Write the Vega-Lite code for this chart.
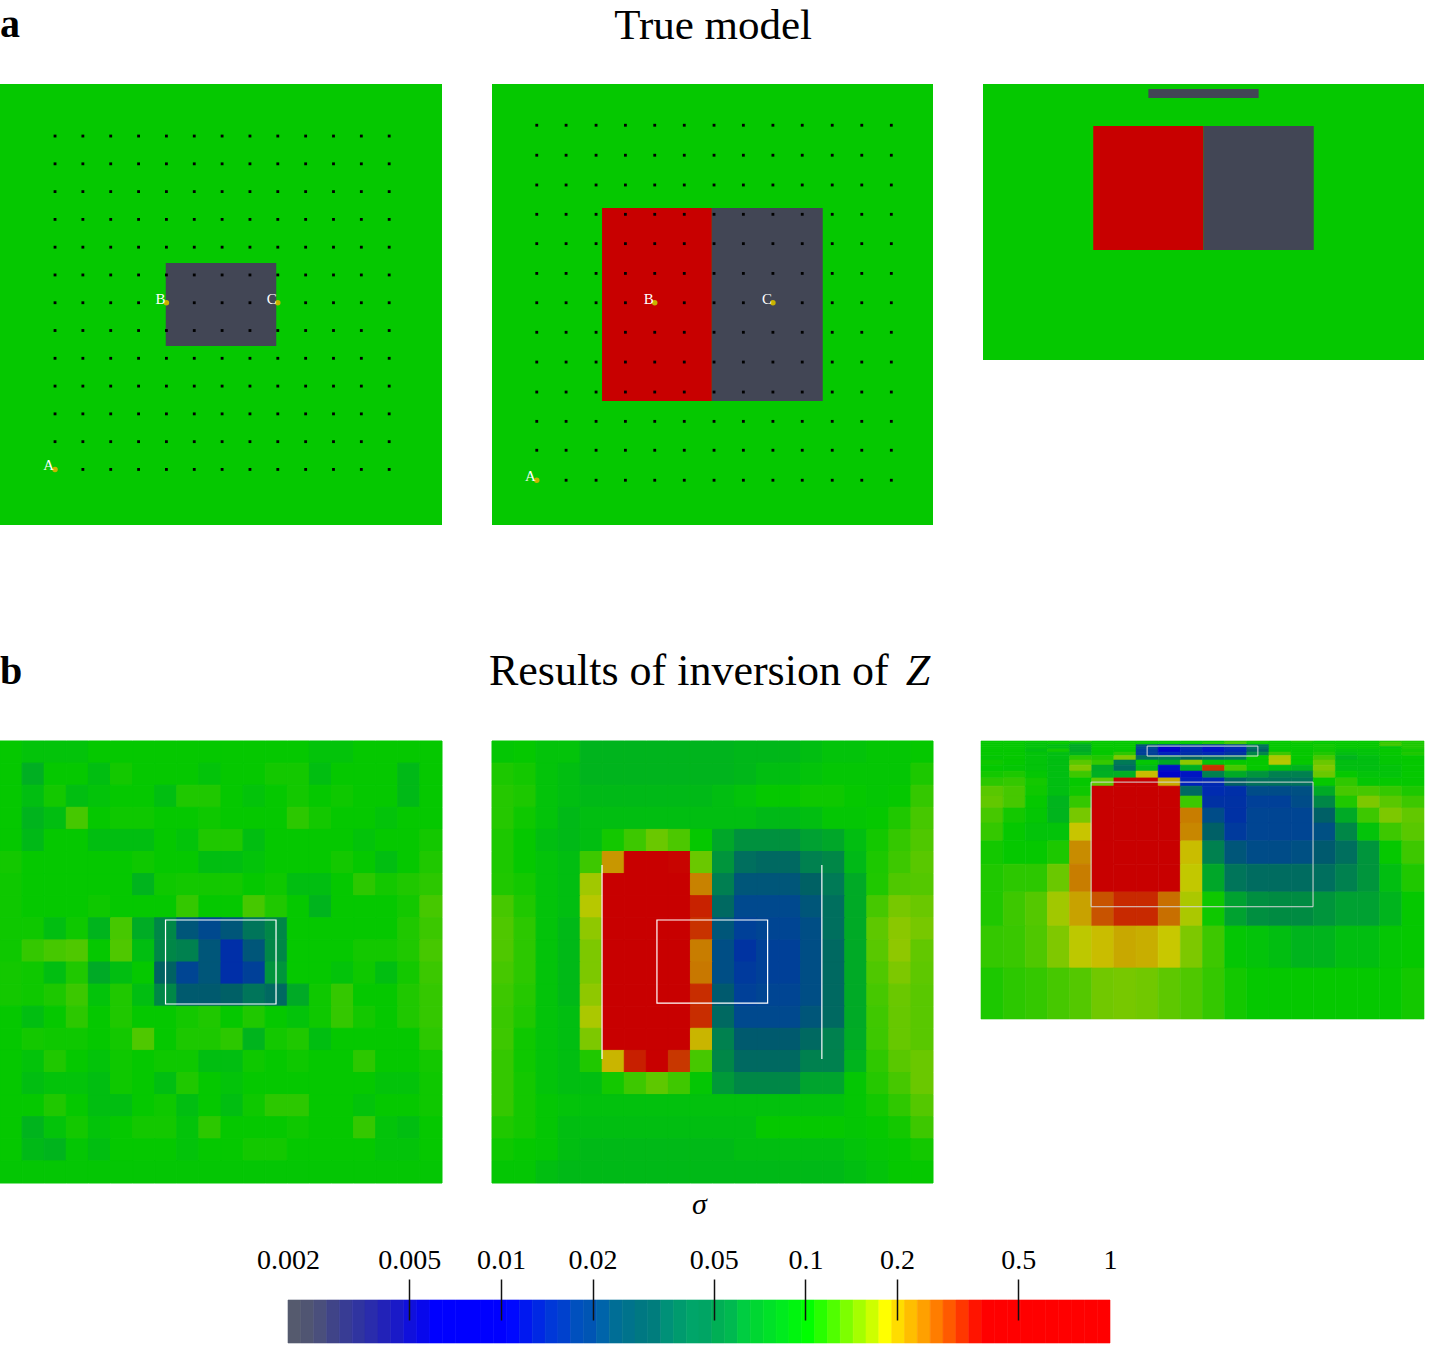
{"$schema":"https://vega.github.io/schema/vega-lite/v6.json","padding":{"left":-1,"top":0,"right":0,"bottom":0},"background":"white","spacing":0,"config":{"view":{"stroke":null},"concat":{"spacing":0}},
"datasets":{
"p1":[
{"c":0,"r":0,"v":0.1},{"c":1,"r":0,"v":0.095},{"c":2,"r":0,"v":0.095},{"c":3,"r":0,"v":0.095},{"c":4,"r":0,"v":0.1},{"c":5,"r":0,"v":0.1},{"c":6,"r":0,"v":0.1},{"c":7,"r":0,"v":0.1},{"c":8,"r":0,"v":0.1},{"c":9,"r":0,"v":0.1},{"c":10,"r":0,"v":0.1},{"c":11,"r":0,"v":0.1},{"c":12,"r":0,"v":0.1},{"c":13,"r":0,"v":0.1},{"c":14,"r":0,"v":0.095},{"c":15,"r":0,"v":0.095},{"c":16,"r":0,"v":0.1},{"c":17,"r":0,"v":0.1},{"c":18,"r":0,"v":0.1},{"c":19,"r":0,"v":0.1},
{"c":0,"r":1,"v":0.1},{"c":1,"r":1,"v":0.075},{"c":2,"r":1,"v":0.1},{"c":3,"r":1,"v":0.1},{"c":4,"r":1,"v":0.09},{"c":5,"r":1,"v":0.105},{"c":6,"r":1,"v":0.1},{"c":7,"r":1,"v":0.1},{"c":8,"r":1,"v":0.1},{"c":9,"r":1,"v":0.095},{"c":10,"r":1,"v":0.1},{"c":11,"r":1,"v":0.1},{"c":12,"r":1,"v":0.105},{"c":13,"r":1,"v":0.105},{"c":14,"r":1,"v":0.09},{"c":15,"r":1,"v":0.1},{"c":16,"r":1,"v":0.1},{"c":17,"r":1,"v":0.1},{"c":18,"r":1,"v":0.085},{"c":19,"r":1,"v":0.1},
{"c":0,"r":2,"v":0.1},{"c":1,"r":2,"v":0.09},{"c":2,"r":2,"v":0.105},{"c":3,"r":2,"v":0.09},{"c":4,"r":2,"v":0.095},{"c":5,"r":2,"v":0.1},{"c":6,"r":2,"v":0.1},{"c":7,"r":2,"v":0.09},{"c":8,"r":2,"v":0.1125},{"c":9,"r":2,"v":0.1125},{"c":10,"r":2,"v":0.1},{"c":11,"r":2,"v":0.095},{"c":12,"r":2,"v":0.1},{"c":13,"r":2,"v":0.105},{"c":14,"r":2,"v":0.1},{"c":15,"r":2,"v":0.103},{"c":16,"r":2,"v":0.1},{"c":17,"r":2,"v":0.1},{"c":18,"r":2,"v":0.085},{"c":19,"r":2,"v":0.1},
{"c":0,"r":3,"v":0.1},{"c":1,"r":3,"v":0.08},{"c":2,"r":3,"v":0.09},{"c":3,"r":3,"v":0.126},{"c":4,"r":3,"v":0.1},{"c":5,"r":3,"v":0.103},{"c":6,"r":3,"v":0.103},{"c":7,"r":3,"v":0.1},{"c":8,"r":3,"v":0.1},{"c":9,"r":3,"v":0.103},{"c":10,"r":3,"v":0.1},{"c":11,"r":3,"v":0.1},{"c":12,"r":3,"v":0.1},{"c":13,"r":3,"v":0.116},{"c":14,"r":3,"v":0.105},{"c":15,"r":3,"v":0.1},{"c":16,"r":3,"v":0.1},{"c":17,"r":3,"v":0.095},{"c":18,"r":3,"v":0.1},{"c":19,"r":3,"v":0.1},
{"c":0,"r":4,"v":0.1},{"c":1,"r":4,"v":0.085},{"c":2,"r":4,"v":0.1},{"c":3,"r":4,"v":0.1},{"c":4,"r":4,"v":0.09},{"c":5,"r":4,"v":0.09},{"c":6,"r":4,"v":0.09},{"c":7,"r":4,"v":0.1},{"c":8,"r":4,"v":0.095},{"c":9,"r":4,"v":0.1125},{"c":10,"r":4,"v":0.1125},{"c":11,"r":4,"v":0.09},{"c":12,"r":4,"v":0.1},{"c":13,"r":4,"v":0.1},{"c":14,"r":4,"v":0.1},{"c":15,"r":4,"v":0.1},{"c":16,"r":4,"v":0.095},{"c":17,"r":4,"v":0.1},{"c":18,"r":4,"v":0.1},{"c":19,"r":4,"v":0.105},
{"c":0,"r":5,"v":0.105},{"c":1,"r":5,"v":0.1},{"c":2,"r":5,"v":0.1},{"c":3,"r":5,"v":0.1},{"c":4,"r":5,"v":0.1},{"c":5,"r":5,"v":0.1},{"c":6,"r":5,"v":0.103},{"c":7,"r":5,"v":0.1},{"c":8,"r":5,"v":0.1},{"c":9,"r":5,"v":0.09},{"c":10,"r":5,"v":0.09},{"c":11,"r":5,"v":0.095},{"c":12,"r":5,"v":0.1},{"c":13,"r":5,"v":0.1},{"c":14,"r":5,"v":0.1},{"c":15,"r":5,"v":0.105},{"c":16,"r":5,"v":0.1},{"c":17,"r":5,"v":0.09},{"c":18,"r":5,"v":0.1},{"c":19,"r":5,"v":0.1125},
{"c":0,"r":6,"v":0.103},{"c":1,"r":6,"v":0.1},{"c":2,"r":6,"v":0.1},{"c":3,"r":6,"v":0.1},{"c":4,"r":6,"v":0.1},{"c":5,"r":6,"v":0.1},{"c":6,"r":6,"v":0.08},{"c":7,"r":6,"v":0.103},{"c":8,"r":6,"v":0.105},{"c":9,"r":6,"v":0.105},{"c":10,"r":6,"v":0.105},{"c":11,"r":6,"v":0.1},{"c":12,"r":6,"v":0.103},{"c":13,"r":6,"v":0.09},{"c":14,"r":6,"v":0.09},{"c":15,"r":6,"v":0.1},{"c":16,"r":6,"v":0.116},{"c":17,"r":6,"v":0.105},{"c":18,"r":6,"v":0.1125},{"c":19,"r":6,"v":0.116},
{"c":0,"r":7,"v":0.103},{"c":1,"r":7,"v":0.1},{"c":2,"r":7,"v":0.1},{"c":3,"r":7,"v":0.1},{"c":4,"r":7,"v":0.103},{"c":5,"r":7,"v":0.1},{"c":6,"r":7,"v":0.1},{"c":7,"r":7,"v":0.1},{"c":8,"r":7,"v":0.119},{"c":9,"r":7,"v":0.1},{"c":10,"r":7,"v":0.1},{"c":11,"r":7,"v":0.126},{"c":12,"r":7,"v":0.1125},{"c":13,"r":7,"v":0.1},{"c":14,"r":7,"v":0.08},{"c":15,"r":7,"v":0.1},{"c":16,"r":7,"v":0.1},{"c":17,"r":7,"v":0.1},{"c":18,"r":7,"v":0.105},{"c":19,"r":7,"v":0.126},
{"c":0,"r":8,"v":0.103},{"c":1,"r":8,"v":0.103},{"c":2,"r":8,"v":0.09},{"c":3,"r":8,"v":0.103},{"c":4,"r":8,"v":0.08},{"c":5,"r":8,"v":0.126},{"c":6,"r":8,"v":0.072},{"c":7,"r":8,"v":0.05},{"c":8,"r":8,"v":0.024},{"c":9,"r":8,"v":0.02},{"c":10,"r":8,"v":0.024},{"c":11,"r":8,"v":0.038},{"c":12,"r":8,"v":0.05},{"c":13,"r":8,"v":0.1},{"c":14,"r":8,"v":0.1},{"c":15,"r":8,"v":0.1},{"c":16,"r":8,"v":0.1},{"c":17,"r":8,"v":0.1},{"c":18,"r":8,"v":0.1125},{"c":19,"r":8,"v":0.122},
{"c":0,"r":9,"v":0.103},{"c":1,"r":9,"v":0.119},{"c":2,"r":9,"v":0.126},{"c":3,"r":9,"v":0.129},{"c":4,"r":9,"v":0.1},{"c":5,"r":9,"v":0.129},{"c":6,"r":9,"v":0.09},{"c":7,"r":9,"v":0.05},{"c":8,"r":9,"v":0.045},{"c":9,"r":9,"v":0.024},{"c":10,"r":9,"v":0.015},{"c":11,"r":9,"v":0.024},{"c":12,"r":9,"v":0.05},{"c":13,"r":9,"v":0.1},{"c":14,"r":9,"v":0.1},{"c":15,"r":9,"v":0.1},{"c":16,"r":9,"v":0.105},{"c":17,"r":9,"v":0.105},{"c":18,"r":9,"v":0.1125},{"c":19,"r":9,"v":0.126},
{"c":0,"r":10,"v":0.105},{"c":1,"r":10,"v":0.103},{"c":2,"r":10,"v":0.09},{"c":3,"r":10,"v":0.1125},{"c":4,"r":10,"v":0.07},{"c":5,"r":10,"v":0.09},{"c":6,"r":10,"v":0.1},{"c":7,"r":10,"v":0.032},{"c":8,"r":10,"v":0.019},{"c":9,"r":10,"v":0.024},{"c":10,"r":10,"v":0.015},{"c":11,"r":10,"v":0.018},{"c":12,"r":10,"v":0.058},{"c":13,"r":10,"v":0.1},{"c":14,"r":10,"v":0.1},{"c":15,"r":10,"v":0.095},{"c":16,"r":10,"v":0.103},{"c":17,"r":10,"v":0.09},{"c":18,"r":10,"v":0.105},{"c":19,"r":10,"v":0.122},
{"c":0,"r":11,"v":0.105},{"c":1,"r":11,"v":0.103},{"c":2,"r":11,"v":0.11},{"c":3,"r":11,"v":0.122},{"c":4,"r":11,"v":0.095},{"c":5,"r":11,"v":0.1125},{"c":6,"r":11,"v":0.09},{"c":7,"r":11,"v":0.05},{"c":8,"r":11,"v":0.026},{"c":9,"r":11,"v":0.026},{"c":10,"r":11,"v":0.03},{"c":11,"r":11,"v":0.038},{"c":12,"r":11,"v":0.034},{"c":13,"r":11,"v":0.07},{"c":14,"r":11,"v":0.103},{"c":15,"r":11,"v":0.119},{"c":16,"r":11,"v":0.1},{"c":17,"r":11,"v":0.1},{"c":18,"r":11,"v":0.1125},{"c":19,"r":11,"v":0.119},
{"c":0,"r":12,"v":0.1},{"c":1,"r":12,"v":0.09},{"c":2,"r":12,"v":0.1},{"c":3,"r":12,"v":0.116},{"c":4,"r":12,"v":0.1},{"c":5,"r":12,"v":0.1125},{"c":6,"r":12,"v":0.1},{"c":7,"r":12,"v":0.1},{"c":8,"r":12,"v":0.105},{"c":9,"r":12,"v":0.1125},{"c":10,"r":12,"v":0.1},{"c":11,"r":12,"v":0.1125},{"c":12,"r":12,"v":0.1},{"c":13,"r":12,"v":0.095},{"c":14,"r":12,"v":0.103},{"c":15,"r":12,"v":0.119},{"c":16,"r":12,"v":0.105},{"c":17,"r":12,"v":0.1},{"c":18,"r":12,"v":0.1125},{"c":19,"r":12,"v":0.119},
{"c":0,"r":13,"v":0.1},{"c":1,"r":13,"v":0.105},{"c":2,"r":13,"v":0.103},{"c":3,"r":13,"v":0.103},{"c":4,"r":13,"v":0.1},{"c":5,"r":13,"v":0.105},{"c":6,"r":13,"v":0.129},{"c":7,"r":13,"v":0.1},{"c":8,"r":13,"v":0.11},{"c":9,"r":13,"v":0.11},{"c":10,"r":13,"v":0.116},{"c":11,"r":13,"v":0.08},{"c":12,"r":13,"v":0.105},{"c":13,"r":13,"v":0.1125},{"c":14,"r":13,"v":0.09},{"c":15,"r":13,"v":0.1},{"c":16,"r":13,"v":0.1},{"c":17,"r":13,"v":0.1},{"c":18,"r":13,"v":0.1},{"c":19,"r":13,"v":0.116},
{"c":0,"r":14,"v":0.1},{"c":1,"r":14,"v":0.095},{"c":2,"r":14,"v":0.1125},{"c":3,"r":14,"v":0.1},{"c":4,"r":14,"v":0.095},{"c":5,"r":14,"v":0.103},{"c":6,"r":14,"v":0.1},{"c":7,"r":14,"v":0.103},{"c":8,"r":14,"v":0.103},{"c":9,"r":14,"v":0.09},{"c":10,"r":14,"v":0.09},{"c":11,"r":14,"v":0.103},{"c":12,"r":14,"v":0.1},{"c":13,"r":14,"v":0.103},{"c":14,"r":14,"v":0.1},{"c":15,"r":14,"v":0.1},{"c":16,"r":14,"v":0.116},{"c":17,"r":14,"v":0.1},{"c":18,"r":14,"v":0.1},{"c":19,"r":14,"v":0.105},
{"c":0,"r":15,"v":0.1},{"c":1,"r":15,"v":0.09},{"c":2,"r":15,"v":0.095},{"c":3,"r":15,"v":0.095},{"c":4,"r":15,"v":0.09},{"c":5,"r":15,"v":0.103},{"c":6,"r":15,"v":0.1},{"c":7,"r":15,"v":0.09},{"c":8,"r":15,"v":0.1125},{"c":9,"r":15,"v":0.1},{"c":10,"r":15,"v":0.095},{"c":11,"r":15,"v":0.1},{"c":12,"r":15,"v":0.1},{"c":13,"r":15,"v":0.1},{"c":14,"r":15,"v":0.1},{"c":15,"r":15,"v":0.1},{"c":16,"r":15,"v":0.1},{"c":17,"r":15,"v":0.095},{"c":18,"r":15,"v":0.095},{"c":19,"r":15,"v":0.103},
{"c":0,"r":16,"v":0.1},{"c":1,"r":16,"v":0.1},{"c":2,"r":16,"v":0.1125},{"c":3,"r":16,"v":0.1},{"c":4,"r":16,"v":0.09},{"c":5,"r":16,"v":0.09},{"c":6,"r":16,"v":0.1},{"c":7,"r":16,"v":0.103},{"c":8,"r":16,"v":0.09},{"c":9,"r":16,"v":0.1},{"c":10,"r":16,"v":0.09},{"c":11,"r":16,"v":0.103},{"c":12,"r":16,"v":0.116},{"c":13,"r":16,"v":0.116},{"c":14,"r":16,"v":0.1},{"c":15,"r":16,"v":0.1},{"c":16,"r":16,"v":0.095},{"c":17,"r":16,"v":0.1},{"c":18,"r":16,"v":0.1},{"c":19,"r":16,"v":0.103},
{"c":0,"r":17,"v":0.1},{"c":1,"r":17,"v":0.08},{"c":2,"r":17,"v":0.095},{"c":3,"r":17,"v":0.105},{"c":4,"r":17,"v":0.095},{"c":5,"r":17,"v":0.1},{"c":6,"r":17,"v":0.105},{"c":7,"r":17,"v":0.105},{"c":8,"r":17,"v":0.095},{"c":9,"r":17,"v":0.116},{"c":10,"r":17,"v":0.1},{"c":11,"r":17,"v":0.1},{"c":12,"r":17,"v":0.1},{"c":13,"r":17,"v":0.103},{"c":14,"r":17,"v":0.1},{"c":15,"r":17,"v":0.1},{"c":16,"r":17,"v":0.119},{"c":17,"r":17,"v":0.095},{"c":18,"r":17,"v":0.09},{"c":19,"r":17,"v":0.1},
{"c":0,"r":18,"v":0.1},{"c":1,"r":18,"v":0.085},{"c":2,"r":18,"v":0.08},{"c":3,"r":18,"v":0.098},{"c":4,"r":18,"v":0.09},{"c":5,"r":18,"v":0.1},{"c":6,"r":18,"v":0.1},{"c":7,"r":18,"v":0.1},{"c":8,"r":18,"v":0.095},{"c":9,"r":18,"v":0.1},{"c":10,"r":18,"v":0.1},{"c":11,"r":18,"v":0.105},{"c":12,"r":18,"v":0.105},{"c":13,"r":18,"v":0.1},{"c":14,"r":18,"v":0.1},{"c":15,"r":18,"v":0.1},{"c":16,"r":18,"v":0.1},{"c":17,"r":18,"v":0.095},{"c":18,"r":18,"v":0.095},{"c":19,"r":18,"v":0.1},
{"c":0,"r":19,"v":0.098},{"c":1,"r":19,"v":0.098},{"c":2,"r":19,"v":0.098},{"c":3,"r":19,"v":0.098},{"c":4,"r":19,"v":0.098},{"c":5,"r":19,"v":0.098},{"c":6,"r":19,"v":0.098},{"c":7,"r":19,"v":0.098},{"c":8,"r":19,"v":0.098},{"c":9,"r":19,"v":0.098},{"c":10,"r":19,"v":0.098},{"c":11,"r":19,"v":0.098},{"c":12,"r":19,"v":0.098},{"c":13,"r":19,"v":0.098},{"c":14,"r":19,"v":0.098},{"c":15,"r":19,"v":0.098},{"c":16,"r":19,"v":0.098},{"c":17,"r":19,"v":0.098},{"c":18,"r":19,"v":0.098},{"c":19,"r":19,"v":0.098}
],
"p2":[
{"c":0,"r":0,"v":0.098},{"c":1,"r":0,"v":0.1},{"c":2,"r":0,"v":0.095},{"c":3,"r":0,"v":0.095},{"c":4,"r":0,"v":0.08},{"c":5,"r":0,"v":0.08},{"c":6,"r":0,"v":0.08},{"c":7,"r":0,"v":0.08},{"c":8,"r":0,"v":0.08},{"c":9,"r":0,"v":0.08},{"c":10,"r":0,"v":0.08},{"c":11,"r":0,"v":0.083},{"c":12,"r":0,"v":0.083},{"c":13,"r":0,"v":0.083},{"c":14,"r":0,"v":0.09},{"c":15,"r":0,"v":0.095},{"c":16,"r":0,"v":0.095},{"c":17,"r":0,"v":0.098},{"c":18,"r":0,"v":0.098},{"c":19,"r":0,"v":0.1},
{"c":0,"r":1,"v":0.11},{"c":1,"r":1,"v":0.105},{"c":2,"r":1,"v":0.095},{"c":3,"r":1,"v":0.09},{"c":4,"r":1,"v":0.08},{"c":5,"r":1,"v":0.08},{"c":6,"r":1,"v":0.08},{"c":7,"r":1,"v":0.08},{"c":8,"r":1,"v":0.08},{"c":9,"r":1,"v":0.08},{"c":10,"r":1,"v":0.08},{"c":11,"r":1,"v":0.083},{"c":12,"r":1,"v":0.09},{"c":13,"r":1,"v":0.09},{"c":14,"r":1,"v":0.095},{"c":15,"r":1,"v":0.098},{"c":16,"r":1,"v":0.098},{"c":17,"r":1,"v":0.098},{"c":18,"r":1,"v":0.098},{"c":19,"r":1,"v":0.11},
{"c":0,"r":2,"v":0.114},{"c":1,"r":2,"v":0.11},{"c":2,"r":2,"v":0.095},{"c":3,"r":2,"v":0.09},{"c":4,"r":2,"v":0.085},{"c":5,"r":2,"v":0.085},{"c":6,"r":2,"v":0.085},{"c":7,"r":2,"v":0.085},{"c":8,"r":2,"v":0.085},{"c":9,"r":2,"v":0.085},{"c":10,"r":2,"v":0.09},{"c":11,"r":2,"v":0.095},{"c":12,"r":2,"v":0.1},{"c":13,"r":2,"v":0.1},{"c":14,"r":2,"v":0.103},{"c":15,"r":2,"v":0.103},{"c":16,"r":2,"v":0.1},{"c":17,"r":2,"v":0.098},{"c":18,"r":2,"v":0.1},{"c":19,"r":2,"v":0.119},
{"c":0,"r":3,"v":0.114},{"c":1,"r":3,"v":0.103},{"c":2,"r":3,"v":0.095},{"c":3,"r":3,"v":0.085},{"c":4,"r":3,"v":0.09},{"c":5,"r":3,"v":0.09},{"c":6,"r":3,"v":0.09},{"c":7,"r":3,"v":0.09},{"c":8,"r":3,"v":0.09},{"c":9,"r":3,"v":0.09},{"c":10,"r":3,"v":0.09},{"c":11,"r":3,"v":0.09},{"c":12,"r":3,"v":0.085},{"c":13,"r":3,"v":0.085},{"c":14,"r":3,"v":0.09},{"c":15,"r":3,"v":0.098},{"c":16,"r":3,"v":0.098},{"c":17,"r":3,"v":0.1},{"c":18,"r":3,"v":0.1125},{"c":19,"r":3,"v":0.126},
{"c":0,"r":4,"v":0.11},{"c":1,"r":4,"v":0.1},{"c":2,"r":4,"v":0.09},{"c":3,"r":4,"v":0.085},{"c":4,"r":4,"v":0.09},{"c":5,"r":4,"v":0.105},{"c":6,"r":4,"v":0.123},{"c":7,"r":4,"v":0.14},{"c":8,"r":4,"v":0.128},{"c":9,"r":4,"v":0.1},{"c":10,"r":4,"v":0.068},{"c":11,"r":4,"v":0.056},{"c":12,"r":4,"v":0.056},{"c":13,"r":4,"v":0.056},{"c":14,"r":4,"v":0.064},{"c":15,"r":4,"v":0.068},{"c":16,"r":4,"v":0.09},{"c":17,"r":4,"v":0.105},{"c":18,"r":4,"v":0.119},{"c":19,"r":4,"v":0.129},
{"c":0,"r":5,"v":0.11},{"c":1,"r":5,"v":0.1},{"c":2,"r":5,"v":0.095},{"c":3,"r":5,"v":0.09},{"c":4,"r":5,"v":0.123},{"c":5,"r":5,"v":0.22},{"c":6,"r":5,"v":0.45},{"c":7,"r":5,"v":0.45},{"c":8,"r":5,"v":0.39},{"c":9,"r":5,"v":0.14},{"c":10,"r":5,"v":0.058},{"c":11,"r":5,"v":0.036},{"c":12,"r":5,"v":0.034},{"c":13,"r":5,"v":0.034},{"c":14,"r":5,"v":0.045},{"c":15,"r":5,"v":0.05},{"c":16,"r":5,"v":0.085},{"c":17,"r":5,"v":0.11},{"c":18,"r":5,"v":0.123},{"c":19,"r":5,"v":0.133},
{"c":0,"r":6,"v":0.1125},{"c":1,"r":6,"v":0.105},{"c":2,"r":6,"v":0.095},{"c":3,"r":6,"v":0.09},{"c":4,"r":6,"v":0.166},{"c":5,"r":6,"v":0.45},{"c":6,"r":6,"v":0.45},{"c":7,"r":6,"v":0.45},{"c":8,"r":6,"v":0.45},{"c":9,"r":6,"v":0.24},{"c":10,"r":6,"v":0.044},{"c":11,"r":6,"v":0.024},{"c":12,"r":6,"v":0.024},{"c":13,"r":6,"v":0.024},{"c":14,"r":6,"v":0.031},{"c":15,"r":6,"v":0.04},{"c":16,"r":6,"v":0.07},{"c":17,"r":6,"v":0.1125},{"c":18,"r":6,"v":0.129},{"c":19,"r":6,"v":0.131},
{"c":0,"r":7,"v":0.126},{"c":1,"r":7,"v":0.1125},{"c":2,"r":7,"v":0.095},{"c":3,"r":7,"v":0.09},{"c":4,"r":7,"v":0.175},{"c":5,"r":7,"v":0.45},{"c":6,"r":7,"v":0.45},{"c":7,"r":7,"v":0.45},{"c":8,"r":7,"v":0.45},{"c":9,"r":7,"v":0.34},{"c":10,"r":7,"v":0.034},{"c":11,"r":7,"v":0.02},{"c":12,"r":7,"v":0.02},{"c":13,"r":7,"v":0.02},{"c":14,"r":7,"v":0.024},{"c":15,"r":7,"v":0.036},{"c":16,"r":7,"v":0.07},{"c":17,"r":7,"v":0.126},{"c":18,"r":7,"v":0.146},{"c":19,"r":7,"v":0.14},
{"c":0,"r":8,"v":0.129},{"c":1,"r":8,"v":0.116},{"c":2,"r":8,"v":0.095},{"c":3,"r":8,"v":0.085},{"c":4,"r":8,"v":0.157},{"c":5,"r":8,"v":0.45},{"c":6,"r":8,"v":0.45},{"c":7,"r":8,"v":0.45},{"c":8,"r":8,"v":0.45},{"c":9,"r":8,"v":0.32},{"c":10,"r":8,"v":0.024},{"c":11,"r":8,"v":0.018},{"c":12,"r":8,"v":0.019},{"c":13,"r":8,"v":0.019},{"c":14,"r":8,"v":0.0215},{"c":15,"r":8,"v":0.036},{"c":16,"r":8,"v":0.07},{"c":17,"r":8,"v":0.135},{"c":18,"r":8,"v":0.155},{"c":19,"r":8,"v":0.146},
{"c":0,"r":9,"v":0.129},{"c":1,"r":9,"v":0.116},{"c":2,"r":9,"v":0.095},{"c":3,"r":9,"v":0.085},{"c":4,"r":9,"v":0.149},{"c":5,"r":9,"v":0.45},{"c":6,"r":9,"v":0.45},{"c":7,"r":9,"v":0.45},{"c":8,"r":9,"v":0.45},{"c":9,"r":9,"v":0.245},{"c":10,"r":9,"v":0.0215},{"c":11,"r":9,"v":0.016},{"c":12,"r":9,"v":0.018},{"c":13,"r":9,"v":0.018},{"c":14,"r":9,"v":0.0215},{"c":15,"r":9,"v":0.034},{"c":16,"r":9,"v":0.07},{"c":17,"r":9,"v":0.133},{"c":18,"r":9,"v":0.157},{"c":19,"r":9,"v":0.137},
{"c":0,"r":10,"v":0.126},{"c":1,"r":10,"v":0.116},{"c":2,"r":10,"v":0.095},{"c":3,"r":10,"v":0.085},{"c":4,"r":10,"v":0.149},{"c":5,"r":10,"v":0.45},{"c":6,"r":10,"v":0.45},{"c":7,"r":10,"v":0.45},{"c":8,"r":10,"v":0.45},{"c":9,"r":10,"v":0.25},{"c":10,"r":10,"v":0.0215},{"c":11,"r":10,"v":0.017},{"c":12,"r":10,"v":0.018},{"c":13,"r":10,"v":0.018},{"c":14,"r":10,"v":0.0215},{"c":15,"r":10,"v":0.034},{"c":16,"r":10,"v":0.07},{"c":17,"r":10,"v":0.129},{"c":18,"r":10,"v":0.149},{"c":19,"r":10,"v":0.135},
{"c":0,"r":11,"v":0.123},{"c":1,"r":11,"v":0.114},{"c":2,"r":11,"v":0.095},{"c":3,"r":11,"v":0.085},{"c":4,"r":11,"v":0.157},{"c":5,"r":11,"v":0.45},{"c":6,"r":11,"v":0.45},{"c":7,"r":11,"v":0.45},{"c":8,"r":11,"v":0.45},{"c":9,"r":11,"v":0.325},{"c":10,"r":11,"v":0.026},{"c":11,"r":11,"v":0.018},{"c":12,"r":11,"v":0.019},{"c":13,"r":11,"v":0.019},{"c":14,"r":11,"v":0.0215},{"c":15,"r":11,"v":0.034},{"c":16,"r":11,"v":0.07},{"c":17,"r":11,"v":0.126},{"c":18,"r":11,"v":0.14},{"c":19,"r":11,"v":0.133},
{"c":0,"r":12,"v":0.121},{"c":1,"r":12,"v":0.1125},{"c":2,"r":12,"v":0.095},{"c":3,"r":12,"v":0.09},{"c":4,"r":12,"v":0.17},{"c":5,"r":12,"v":0.45},{"c":6,"r":12,"v":0.45},{"c":7,"r":12,"v":0.45},{"c":8,"r":12,"v":0.45},{"c":9,"r":12,"v":0.325},{"c":10,"r":12,"v":0.034},{"c":11,"r":12,"v":0.02},{"c":12,"r":12,"v":0.02},{"c":13,"r":12,"v":0.02},{"c":14,"r":12,"v":0.024},{"c":15,"r":12,"v":0.034},{"c":16,"r":12,"v":0.07},{"c":17,"r":12,"v":0.124},{"c":18,"r":12,"v":0.139},{"c":19,"r":12,"v":0.133},
{"c":0,"r":13,"v":0.123},{"c":1,"r":13,"v":0.103},{"c":2,"r":13,"v":0.095},{"c":3,"r":13,"v":0.09},{"c":4,"r":13,"v":0.149},{"c":5,"r":13,"v":0.45},{"c":6,"r":13,"v":0.45},{"c":7,"r":13,"v":0.45},{"c":8,"r":13,"v":0.45},{"c":9,"r":13,"v":0.195},{"c":10,"r":13,"v":0.045},{"c":11,"r":13,"v":0.026},{"c":12,"r":13,"v":0.026},{"c":13,"r":13,"v":0.026},{"c":14,"r":13,"v":0.034},{"c":15,"r":13,"v":0.045},{"c":16,"r":13,"v":0.072},{"c":17,"r":13,"v":0.123},{"c":18,"r":13,"v":0.139},{"c":19,"r":13,"v":0.133},
{"c":0,"r":14,"v":0.119},{"c":1,"r":14,"v":0.103},{"c":2,"r":14,"v":0.095},{"c":3,"r":14,"v":0.09},{"c":4,"r":14,"v":0.1125},{"c":5,"r":14,"v":0.195},{"c":6,"r":14,"v":0.345},{"c":7,"r":14,"v":0.45},{"c":8,"r":14,"v":0.315},{"c":9,"r":14,"v":0.126},{"c":10,"r":14,"v":0.05},{"c":11,"r":14,"v":0.034},{"c":12,"r":14,"v":0.034},{"c":13,"r":14,"v":0.034},{"c":14,"r":14,"v":0.045},{"c":15,"r":14,"v":0.045},{"c":16,"r":14,"v":0.08},{"c":17,"r":14,"v":0.117},{"c":18,"r":14,"v":0.133},{"c":19,"r":14,"v":0.14},
{"c":0,"r":15,"v":0.119},{"c":1,"r":15,"v":0.105},{"c":2,"r":15,"v":0.095},{"c":3,"r":15,"v":0.09},{"c":4,"r":15,"v":0.09},{"c":5,"r":15,"v":0.105},{"c":6,"r":15,"v":0.123},{"c":7,"r":15,"v":0.135},{"c":8,"r":15,"v":0.124},{"c":9,"r":15,"v":0.098},{"c":10,"r":15,"v":0.06},{"c":11,"r":15,"v":0.05},{"c":12,"r":15,"v":0.05},{"c":13,"r":15,"v":0.05},{"c":14,"r":15,"v":0.066},{"c":15,"r":15,"v":0.066},{"c":16,"r":15,"v":0.098},{"c":17,"r":15,"v":0.114},{"c":18,"r":15,"v":0.126},{"c":19,"r":15,"v":0.14},
{"c":0,"r":16,"v":0.119},{"c":1,"r":16,"v":0.105},{"c":2,"r":16,"v":0.098},{"c":3,"r":16,"v":0.095},{"c":4,"r":16,"v":0.093},{"c":5,"r":16,"v":0.093},{"c":6,"r":16,"v":0.093},{"c":7,"r":16,"v":0.093},{"c":8,"r":16,"v":0.093},{"c":9,"r":16,"v":0.093},{"c":10,"r":16,"v":0.093},{"c":11,"r":16,"v":0.093},{"c":12,"r":16,"v":0.093},{"c":13,"r":16,"v":0.093},{"c":14,"r":16,"v":0.093},{"c":15,"r":16,"v":0.093},{"c":16,"r":16,"v":0.098},{"c":17,"r":16,"v":0.105},{"c":18,"r":16,"v":0.117},{"c":19,"r":16,"v":0.131},
{"c":0,"r":17,"v":0.1125},{"c":1,"r":17,"v":0.105},{"c":2,"r":17,"v":0.098},{"c":3,"r":17,"v":0.09},{"c":4,"r":17,"v":0.09},{"c":5,"r":17,"v":0.09},{"c":6,"r":17,"v":0.09},{"c":7,"r":17,"v":0.09},{"c":8,"r":17,"v":0.09},{"c":9,"r":17,"v":0.09},{"c":10,"r":17,"v":0.09},{"c":11,"r":17,"v":0.09},{"c":12,"r":17,"v":0.1},{"c":13,"r":17,"v":0.1},{"c":14,"r":17,"v":0.1},{"c":15,"r":17,"v":0.1},{"c":16,"r":17,"v":0.098},{"c":17,"r":17,"v":0.1},{"c":18,"r":17,"v":0.105},{"c":19,"r":17,"v":0.123},
{"c":0,"r":18,"v":0.103},{"c":1,"r":18,"v":0.1},{"c":2,"r":18,"v":0.098},{"c":3,"r":18,"v":0.09},{"c":4,"r":18,"v":0.085},{"c":5,"r":18,"v":0.085},{"c":6,"r":18,"v":0.085},{"c":7,"r":18,"v":0.085},{"c":8,"r":18,"v":0.085},{"c":9,"r":18,"v":0.085},{"c":10,"r":18,"v":0.085},{"c":11,"r":18,"v":0.09},{"c":12,"r":18,"v":0.09},{"c":13,"r":18,"v":0.09},{"c":14,"r":18,"v":0.09},{"c":15,"r":18,"v":0.09},{"c":16,"r":18,"v":0.095},{"c":17,"r":18,"v":0.098},{"c":18,"r":18,"v":0.1},{"c":19,"r":18,"v":0.105},
{"c":0,"r":19,"v":0.098},{"c":1,"r":19,"v":0.098},{"c":2,"r":19,"v":0.09},{"c":3,"r":19,"v":0.085},{"c":4,"r":19,"v":0.085},{"c":5,"r":19,"v":0.085},{"c":6,"r":19,"v":0.085},{"c":7,"r":19,"v":0.085},{"c":8,"r":19,"v":0.085},{"c":9,"r":19,"v":0.085},{"c":10,"r":19,"v":0.085},{"c":11,"r":19,"v":0.085},{"c":12,"r":19,"v":0.085},{"c":13,"r":19,"v":0.085},{"c":14,"r":19,"v":0.085},{"c":15,"r":19,"v":0.085},{"c":16,"r":19,"v":0.09},{"c":17,"r":19,"v":0.095},{"c":18,"r":19,"v":0.1},{"c":19,"r":19,"v":0.1}
],
"p3":[
{"c":0,"r":0,"v":0.1},{"c":1,"r":0,"v":0.1},{"c":2,"r":0,"v":0.1},{"c":3,"r":0,"v":0.1},{"c":4,"r":0,"v":0.1125},{"c":5,"r":0,"v":0.1},{"c":6,"r":0,"v":0.1},{"c":7,"r":0,"v":0.1},{"c":8,"r":0,"v":0.1},{"c":9,"r":0,"v":0.1},{"c":10,"r":0,"v":0.1},{"c":11,"r":0,"v":0.119},{"c":12,"r":0,"v":0.105},{"c":13,"r":0,"v":0.1},{"c":14,"r":0,"v":0.11},{"c":15,"r":0,"v":0.1},{"c":16,"r":0,"v":0.1},{"c":17,"r":0,"v":0.1},{"c":18,"r":0,"v":0.1125},{"c":19,"r":0,"v":0.11},
{"c":0,"r":1,"v":0.1},{"c":1,"r":1,"v":0.1},{"c":2,"r":1,"v":0.095},{"c":3,"r":1,"v":0.1},{"c":4,"r":1,"v":0.09},{"c":5,"r":1,"v":0.1},{"c":6,"r":1,"v":0.1},{"c":7,"r":1,"v":0.098},{"c":8,"r":1,"v":0.1},{"c":9,"r":1,"v":0.1},{"c":10,"r":1,"v":0.1125},{"c":11,"r":1,"v":0.126},{"c":12,"r":1,"v":0.1},{"c":13,"r":1,"v":0.1},{"c":14,"r":1,"v":0.1},{"c":15,"r":1,"v":0.1},{"c":16,"r":1,"v":0.1},{"c":17,"r":1,"v":0.1},{"c":18,"r":1,"v":0.123},{"c":19,"r":1,"v":0.11},
{"c":0,"r":2,"v":0.1},{"c":1,"r":2,"v":0.1},{"c":2,"r":2,"v":0.095},{"c":3,"r":2,"v":0.09},{"c":4,"r":2,"v":0.07},{"c":5,"r":2,"v":0.1},{"c":6,"r":2,"v":0.1},{"c":7,"r":2,"v":0.026},{"c":8,"r":2,"v":0.02},{"c":9,"r":2,"v":0.02},{"c":10,"r":2,"v":0.018},{"c":11,"r":2,"v":0.02},{"c":12,"r":2,"v":0.04},{"c":13,"r":2,"v":0.1},{"c":14,"r":2,"v":0.1},{"c":15,"r":2,"v":0.105},{"c":16,"r":2,"v":0.1},{"c":17,"r":2,"v":0.1},{"c":18,"r":2,"v":0.123},{"c":19,"r":2,"v":0.1125},
{"c":0,"r":3,"v":0.1},{"c":1,"r":3,"v":0.1},{"c":2,"r":3,"v":0.095},{"c":3,"r":3,"v":0.09},{"c":4,"r":3,"v":0.07},{"c":5,"r":3,"v":0.1},{"c":6,"r":3,"v":0.1},{"c":7,"r":3,"v":0.02},{"c":8,"r":3,"v":0.009},{"c":9,"r":3,"v":0.014},{"c":10,"r":3,"v":0.0115},{"c":11,"r":3,"v":0.014},{"c":12,"r":3,"v":0.036},{"c":13,"r":3,"v":0.1},{"c":14,"r":3,"v":0.1},{"c":15,"r":3,"v":0.103},{"c":16,"r":3,"v":0.1},{"c":17,"r":3,"v":0.1},{"c":18,"r":3,"v":0.095},{"c":19,"r":3,"v":0.1125},
{"c":0,"r":4,"v":0.1},{"c":1,"r":4,"v":0.1},{"c":2,"r":4,"v":0.09},{"c":3,"r":4,"v":0.105},{"c":4,"r":4,"v":0.07},{"c":5,"r":4,"v":0.1},{"c":6,"r":4,"v":0.1},{"c":7,"r":4,"v":0.018},{"c":8,"r":4,"v":0.009},{"c":9,"r":4,"v":0.0135},{"c":10,"r":4,"v":0.0115},{"c":11,"r":4,"v":0.0135},{"c":12,"r":4,"v":0.032},{"c":13,"r":4,"v":0.1},{"c":14,"r":4,"v":0.1},{"c":15,"r":4,"v":0.103},{"c":16,"r":4,"v":0.095},{"c":17,"r":4,"v":0.095},{"c":18,"r":4,"v":0.1},{"c":19,"r":4,"v":0.105},
{"c":0,"r":5,"v":0.1},{"c":1,"r":5,"v":0.1},{"c":2,"r":5,"v":0.095},{"c":3,"r":5,"v":0.09},{"c":4,"r":5,"v":0.08},{"c":5,"r":5,"v":0.1},{"c":6,"r":5,"v":0.116},{"c":7,"r":5,"v":0.018},{"c":8,"r":5,"v":0.0125},{"c":9,"r":5,"v":0.015},{"c":10,"r":5,"v":0.0135},{"c":11,"r":5,"v":0.016},{"c":12,"r":5,"v":0.05},{"c":13,"r":5,"v":0.123},{"c":14,"r":5,"v":0.1},{"c":15,"r":5,"v":0.1125},{"c":16,"r":5,"v":0.09},{"c":17,"r":5,"v":0.095},{"c":18,"r":5,"v":0.1},{"c":19,"r":5,"v":0.11},
{"c":0,"r":6,"v":0.098},{"c":1,"r":6,"v":0.1},{"c":2,"r":6,"v":0.095},{"c":3,"r":6,"v":0.09},{"c":4,"r":6,"v":0.116},{"c":5,"r":6,"v":0.1125},{"c":6,"r":6,"v":0.15},{"c":7,"r":6,"v":0.036},{"c":8,"r":6,"v":0.04},{"c":9,"r":6,"v":0.032},{"c":10,"r":6,"v":0.036},{"c":11,"r":6,"v":0.04},{"c":12,"r":6,"v":0.1},{"c":13,"r":6,"v":0.17},{"c":14,"r":6,"v":0.1},{"c":15,"r":6,"v":0.126},{"c":16,"r":6,"v":0.08},{"c":17,"r":6,"v":0.09},{"c":18,"r":6,"v":0.098},{"c":19,"r":6,"v":0.1},
{"c":0,"r":7,"v":0.103},{"c":1,"r":7,"v":0.1},{"c":2,"r":7,"v":0.095},{"c":3,"r":7,"v":0.09},{"c":4,"r":7,"v":0.133},{"c":5,"r":7,"v":0.119},{"c":6,"r":7,"v":0.04},{"c":7,"r":7,"v":0.098},{"c":8,"r":7,"v":0.07},{"c":9,"r":7,"v":0.157},{"c":10,"r":7,"v":0.095},{"c":11,"r":7,"v":0.1},{"c":12,"r":7,"v":0.1},{"c":13,"r":7,"v":0.175},{"c":14,"r":7,"v":0.1},{"c":15,"r":7,"v":0.14},{"c":16,"r":7,"v":0.09},{"c":17,"r":7,"v":0.09},{"c":18,"r":7,"v":0.098},{"c":19,"r":7,"v":0.1},
{"c":0,"r":8,"v":0.1},{"c":1,"r":8,"v":0.098},{"c":2,"r":8,"v":0.095},{"c":3,"r":8,"v":0.09},{"c":4,"r":8,"v":0.15},{"c":5,"r":8,"v":0.07},{"c":6,"r":8,"v":0.035},{"c":7,"r":8,"v":0.085},{"c":8,"r":8,"v":0.0115},{"c":9,"r":8,"v":0.075},{"c":10,"r":8,"v":0.32},{"c":11,"r":8,"v":0.126},{"c":12,"r":8,"v":0.1},{"c":13,"r":8,"v":0.09},{"c":14,"r":8,"v":0.08},{"c":15,"r":8,"v":0.15},{"c":16,"r":8,"v":0.09},{"c":17,"r":8,"v":0.09},{"c":18,"r":8,"v":0.095},{"c":19,"r":8,"v":0.1},
{"c":0,"r":9,"v":0.105},{"c":1,"r":9,"v":0.11},{"c":2,"r":9,"v":0.098},{"c":3,"r":9,"v":0.09},{"c":4,"r":9,"v":0.123},{"c":5,"r":9,"v":0.075},{"c":6,"r":9,"v":0.075},{"c":7,"r":9,"v":0.19},{"c":8,"r":9,"v":0.009},{"c":9,"r":9,"v":0.0115},{"c":10,"r":9,"v":0.045},{"c":11,"r":9,"v":0.07},{"c":12,"r":9,"v":0.058},{"c":13,"r":9,"v":0.045},{"c":14,"r":9,"v":0.045},{"c":15,"r":9,"v":0.14},{"c":16,"r":9,"v":0.1},{"c":17,"r":9,"v":0.095},{"c":18,"r":9,"v":0.095},{"c":19,"r":9,"v":0.1},
{"c":0,"r":10,"v":0.116},{"c":1,"r":10,"v":0.119},{"c":2,"r":10,"v":0.105},{"c":3,"r":10,"v":0.09},{"c":4,"r":10,"v":0.1},{"c":5,"r":10,"v":0.137},{"c":6,"r":10,"v":0.45},{"c":7,"r":10,"v":0.45},{"c":8,"r":10,"v":0.205},{"c":9,"r":10,"v":0.0125},{"c":10,"r":10,"v":0.0135},{"c":11,"r":10,"v":0.03},{"c":12,"r":10,"v":0.037},{"c":13,"r":10,"v":0.037},{"c":14,"r":10,"v":0.037},{"c":15,"r":10,"v":0.1},{"c":16,"r":10,"v":0.117},{"c":17,"r":10,"v":0.098},{"c":18,"r":10,"v":0.1},{"c":19,"r":10,"v":0.1},
{"c":0,"r":11,"v":0.133},{"c":1,"r":11,"v":0.126},{"c":2,"r":11,"v":0.103},{"c":3,"r":11,"v":0.09},{"c":4,"r":11,"v":0.103},{"c":5,"r":11,"v":0.45},{"c":6,"r":11,"v":0.45},{"c":7,"r":11,"v":0.45},{"c":8,"r":11,"v":0.45},{"c":9,"r":11,"v":0.034},{"c":10,"r":11,"v":0.014},{"c":11,"r":11,"v":0.015},{"c":12,"r":11,"v":0.021},{"c":13,"r":11,"v":0.021},{"c":14,"r":11,"v":0.022},{"c":15,"r":11,"v":0.07},{"c":16,"r":11,"v":0.126},{"c":17,"r":11,"v":0.126},{"c":18,"r":11,"v":0.119},{"c":19,"r":11,"v":0.11},
{"c":0,"r":12,"v":0.137},{"c":1,"r":12,"v":0.126},{"c":2,"r":12,"v":0.1},{"c":3,"r":12,"v":0.08},{"c":4,"r":12,"v":0.119},{"c":5,"r":12,"v":0.45},{"c":6,"r":12,"v":0.45},{"c":7,"r":12,"v":0.45},{"c":8,"r":12,"v":0.45},{"c":9,"r":12,"v":0.123},{"c":10,"r":12,"v":0.0155},{"c":11,"r":12,"v":0.0155},{"c":12,"r":12,"v":0.018},{"c":13,"r":12,"v":0.018},{"c":14,"r":12,"v":0.021},{"c":15,"r":12,"v":0.05},{"c":16,"r":12,"v":0.1125},{"c":17,"r":12,"v":0.149},{"c":18,"r":12,"v":0.133},{"c":19,"r":12,"v":0.123},
{"c":0,"r":13,"v":0.126},{"c":1,"r":13,"v":0.105},{"c":2,"r":13,"v":0.098},{"c":3,"r":13,"v":0.08},{"c":4,"r":13,"v":0.146},{"c":5,"r":13,"v":0.45},{"c":6,"r":13,"v":0.45},{"c":7,"r":13,"v":0.45},{"c":8,"r":13,"v":0.45},{"c":9,"r":13,"v":0.245},{"c":10,"r":13,"v":0.021},{"c":11,"r":13,"v":0.0155},{"c":12,"r":13,"v":0.019},{"c":13,"r":13,"v":0.019},{"c":14,"r":13,"v":0.019},{"c":15,"r":13,"v":0.03},{"c":16,"r":13,"v":0.07},{"c":17,"r":13,"v":0.123},{"c":18,"r":13,"v":0.149},{"c":19,"r":13,"v":0.137},
{"c":0,"r":14,"v":0.119},{"c":1,"r":14,"v":0.1},{"c":2,"r":14,"v":0.095},{"c":3,"r":14,"v":0.095},{"c":4,"r":14,"v":0.185},{"c":5,"r":14,"v":0.45},{"c":6,"r":14,"v":0.45},{"c":7,"r":14,"v":0.45},{"c":8,"r":14,"v":0.45},{"c":9,"r":14,"v":0.235},{"c":10,"r":14,"v":0.03},{"c":11,"r":14,"v":0.017},{"c":12,"r":14,"v":0.019},{"c":13,"r":14,"v":0.019},{"c":14,"r":14,"v":0.019},{"c":15,"r":14,"v":0.022},{"c":16,"r":14,"v":0.05},{"c":17,"r":14,"v":0.095},{"c":18,"r":14,"v":0.123},{"c":19,"r":14,"v":0.133},
{"c":0,"r":15,"v":0.105},{"c":1,"r":15,"v":0.1},{"c":2,"r":15,"v":0.1},{"c":3,"r":15,"v":0.11},{"c":4,"r":15,"v":0.23},{"c":5,"r":15,"v":0.45},{"c":6,"r":15,"v":0.45},{"c":7,"r":15,"v":0.45},{"c":8,"r":15,"v":0.45},{"c":9,"r":15,"v":0.19},{"c":10,"r":15,"v":0.045},{"c":11,"r":15,"v":0.024},{"c":12,"r":15,"v":0.021},{"c":13,"r":15,"v":0.021},{"c":14,"r":15,"v":0.022},{"c":15,"r":15,"v":0.026},{"c":16,"r":15,"v":0.036},{"c":17,"r":15,"v":0.058},{"c":18,"r":15,"v":0.1},{"c":19,"r":15,"v":0.123},
{"c":0,"r":16,"v":0.1125},{"c":1,"r":16,"v":0.116},{"c":2,"r":16,"v":0.116},{"c":3,"r":16,"v":0.14},{"c":4,"r":16,"v":0.245},{"c":5,"r":16,"v":0.45},{"c":6,"r":16,"v":0.45},{"c":7,"r":16,"v":0.45},{"c":8,"r":16,"v":0.45},{"c":9,"r":16,"v":0.18},{"c":10,"r":16,"v":0.068},{"c":11,"r":16,"v":0.038},{"c":12,"r":16,"v":0.035},{"c":13,"r":16,"v":0.035},{"c":14,"r":16,"v":0.035},{"c":15,"r":16,"v":0.036},{"c":16,"r":16,"v":0.045},{"c":17,"r":16,"v":0.058},{"c":18,"r":16,"v":0.09},{"c":19,"r":16,"v":0.1125},
{"c":0,"r":17,"v":0.1125},{"c":1,"r":17,"v":0.123},{"c":2,"r":17,"v":0.131},{"c":3,"r":17,"v":0.166},{"c":4,"r":17,"v":0.21},{"c":5,"r":17,"v":0.285},{"c":6,"r":17,"v":0.33},{"c":7,"r":17,"v":0.33},{"c":8,"r":17,"v":0.258},{"c":9,"r":17,"v":0.17},{"c":10,"r":17,"v":0.103},{"c":11,"r":17,"v":0.065},{"c":12,"r":17,"v":0.055},{"c":13,"r":17,"v":0.053},{"c":14,"r":17,"v":0.053},{"c":15,"r":17,"v":0.058},{"c":16,"r":17,"v":0.064},{"c":17,"r":17,"v":0.064},{"c":18,"r":17,"v":0.08},{"c":19,"r":17,"v":0.1},
{"c":0,"r":18,"v":0.119},{"c":1,"r":18,"v":0.121},{"c":2,"r":18,"v":0.129},{"c":3,"r":18,"v":0.15},{"c":4,"r":18,"v":0.178},{"c":5,"r":18,"v":0.19},{"c":6,"r":18,"v":0.205},{"c":7,"r":18,"v":0.2},{"c":8,"r":18,"v":0.183},{"c":9,"r":18,"v":0.149},{"c":10,"r":18,"v":0.123},{"c":11,"r":18,"v":0.098},{"c":12,"r":18,"v":0.095},{"c":13,"r":18,"v":0.09},{"c":14,"r":18,"v":0.08},{"c":15,"r":18,"v":0.08},{"c":16,"r":18,"v":0.09},{"c":17,"r":18,"v":0.09},{"c":18,"r":18,"v":0.098},{"c":19,"r":18,"v":0.1},
{"c":0,"r":19,"v":0.11},{"c":1,"r":19,"v":0.116},{"c":2,"r":19,"v":0.119},{"c":3,"r":19,"v":0.126},{"c":4,"r":19,"v":0.131},{"c":5,"r":19,"v":0.143},{"c":6,"r":19,"v":0.146},{"c":7,"r":19,"v":0.143},{"c":8,"r":19,"v":0.135},{"c":9,"r":19,"v":0.129},{"c":10,"r":19,"v":0.119},{"c":11,"r":19,"v":0.105},{"c":12,"r":19,"v":0.1},{"c":13,"r":19,"v":0.1},{"c":14,"r":19,"v":0.1},{"c":15,"r":19,"v":0.1},{"c":16,"r":19,"v":0.1},{"c":17,"r":19,"v":0.1},{"c":18,"r":19,"v":0.1},{"c":19,"r":19,"v":0.105}
],
"layers":[{"r":0,"d0":0,"d1":0.07},{"r":1,"d0":0.07,"d1":0.16},{"r":2,"d0":0.16,"d1":0.25},{"r":3,"d0":0.25,"d1":0.36},{"r":4,"d0":0.36,"d1":0.5},{"r":5,"d0":0.5,"d1":0.66},{"r":6,"d0":0.66,"d1":0.86},{"r":7,"d0":0.86,"d1":1.09},{"r":8,"d0":1.09,"d1":1.36},{"r":9,"d0":1.36,"d1":1.67},{"r":10,"d0":1.67,"d1":2.04},{"r":11,"d0":2.04,"d1":2.49},{"r":12,"d0":2.49,"d1":3.03},{"r":13,"d0":3.03,"d1":3.71},{"r":14,"d0":3.71,"d1":4.52},{"r":15,"d0":4.52,"d1":5.57},{"r":16,"d0":5.57,"d1":6.83},{"r":17,"d0":6.83,"d1":8.37},{"r":18,"d0":8.37,"d1":10.27},{"r":19,"d0":10.27,"d1":12.58}],
"m1":[{"x0":0,"x1":20,"y0":0,"y1":20,"v":0.1},{"x0":7.5,"x1":12.5,"y0":8.12,"y1":11.88,"v":0.002}],
"m2":[{"x0":0,"x1":20,"y0":0,"y1":20,"v":0.1},{"x0":4.99,"x1":9.97,"y0":5.62,"y1":14.38,"v":1},{"x0":9.97,"x1":15,"y0":5.62,"y1":14.38,"v":0.002}],
"m3":[{"x0":0,"x1":20,"y0":0,"y1":12.52,"v":0.1},{"x0":5,"x1":10,"y0":1.9,"y1":7.53,"v":1},{"x0":10,"x1":15,"y0":1.9,"y1":7.53,"v":0.002},{"x0":7.5,"x1":12.5,"y0":0.23,"y1":0.64,"v":0.002}],
"pts1":[
{"x":2.49,"y":2.36},{"x":3.75,"y":2.36},{"x":5.01,"y":2.36},{"x":6.27,"y":2.36},{"x":7.53,"y":2.36},{"x":8.79,"y":2.36},{"x":10.05,"y":2.36},{"x":11.31,"y":2.36},{"x":12.57,"y":2.36},{"x":13.83,"y":2.36},{"x":15.09,"y":2.36},{"x":16.35,"y":2.36},{"x":17.61,"y":2.36},
{"x":2.49,"y":3.62},{"x":3.75,"y":3.62},{"x":5.01,"y":3.62},{"x":6.27,"y":3.62},{"x":7.53,"y":3.62},{"x":8.79,"y":3.62},{"x":10.05,"y":3.62},{"x":11.31,"y":3.62},{"x":12.57,"y":3.62},{"x":13.83,"y":3.62},{"x":15.09,"y":3.62},{"x":16.35,"y":3.62},{"x":17.61,"y":3.62},
{"x":2.49,"y":4.88},{"x":3.75,"y":4.88},{"x":5.01,"y":4.88},{"x":6.27,"y":4.88},{"x":7.53,"y":4.88},{"x":8.79,"y":4.88},{"x":10.05,"y":4.88},{"x":11.31,"y":4.88},{"x":12.57,"y":4.88},{"x":13.83,"y":4.88},{"x":15.09,"y":4.88},{"x":16.35,"y":4.88},{"x":17.61,"y":4.88},
{"x":2.49,"y":6.14},{"x":3.75,"y":6.14},{"x":5.01,"y":6.14},{"x":6.27,"y":6.14},{"x":7.53,"y":6.14},{"x":8.79,"y":6.14},{"x":10.05,"y":6.14},{"x":11.31,"y":6.14},{"x":12.57,"y":6.14},{"x":13.83,"y":6.14},{"x":15.09,"y":6.14},{"x":16.35,"y":6.14},{"x":17.61,"y":6.14},
{"x":2.49,"y":7.4},{"x":3.75,"y":7.4},{"x":5.01,"y":7.4},{"x":6.27,"y":7.4},{"x":7.53,"y":7.4},{"x":8.79,"y":7.4},{"x":10.05,"y":7.4},{"x":11.31,"y":7.4},{"x":12.57,"y":7.4},{"x":13.83,"y":7.4},{"x":15.09,"y":7.4},{"x":16.35,"y":7.4},{"x":17.61,"y":7.4},
{"x":2.49,"y":8.66},{"x":3.75,"y":8.66},{"x":5.01,"y":8.66},{"x":6.27,"y":8.66},{"x":7.53,"y":8.66},{"x":8.79,"y":8.66},{"x":10.05,"y":8.66},{"x":11.31,"y":8.66},{"x":12.57,"y":8.66},{"x":13.83,"y":8.66},{"x":15.09,"y":8.66},{"x":16.35,"y":8.66},{"x":17.61,"y":8.66},
{"x":2.49,"y":9.92},{"x":3.75,"y":9.92},{"x":5.01,"y":9.92},{"x":6.27,"y":9.92},{"x":7.53,"y":9.92,"s":"B"},{"x":8.79,"y":9.92},{"x":10.05,"y":9.92},{"x":11.31,"y":9.92},{"x":12.57,"y":9.92,"s":"C"},{"x":13.83,"y":9.92},{"x":15.09,"y":9.92},{"x":16.35,"y":9.92},{"x":17.61,"y":9.92},
{"x":2.49,"y":11.18},{"x":3.75,"y":11.18},{"x":5.01,"y":11.18},{"x":6.27,"y":11.18},{"x":7.53,"y":11.18},{"x":8.79,"y":11.18},{"x":10.05,"y":11.18},{"x":11.31,"y":11.18},{"x":12.57,"y":11.18},{"x":13.83,"y":11.18},{"x":15.09,"y":11.18},{"x":16.35,"y":11.18},{"x":17.61,"y":11.18},
{"x":2.49,"y":12.44},{"x":3.75,"y":12.44},{"x":5.01,"y":12.44},{"x":6.27,"y":12.44},{"x":7.53,"y":12.44},{"x":8.79,"y":12.44},{"x":10.05,"y":12.44},{"x":11.31,"y":12.44},{"x":12.57,"y":12.44},{"x":13.83,"y":12.44},{"x":15.09,"y":12.44},{"x":16.35,"y":12.44},{"x":17.61,"y":12.44},
{"x":2.49,"y":13.7},{"x":3.75,"y":13.7},{"x":5.01,"y":13.7},{"x":6.27,"y":13.7},{"x":7.53,"y":13.7},{"x":8.79,"y":13.7},{"x":10.05,"y":13.7},{"x":11.31,"y":13.7},{"x":12.57,"y":13.7},{"x":13.83,"y":13.7},{"x":15.09,"y":13.7},{"x":16.35,"y":13.7},{"x":17.61,"y":13.7},
{"x":2.49,"y":14.96},{"x":3.75,"y":14.96},{"x":5.01,"y":14.96},{"x":6.27,"y":14.96},{"x":7.53,"y":14.96},{"x":8.79,"y":14.96},{"x":10.05,"y":14.96},{"x":11.31,"y":14.96},{"x":12.57,"y":14.96},{"x":13.83,"y":14.96},{"x":15.09,"y":14.96},{"x":16.35,"y":14.96},{"x":17.61,"y":14.96},
{"x":2.49,"y":16.22},{"x":3.75,"y":16.22},{"x":5.01,"y":16.22},{"x":6.27,"y":16.22},{"x":7.53,"y":16.22},{"x":8.79,"y":16.22},{"x":10.05,"y":16.22},{"x":11.31,"y":16.22},{"x":12.57,"y":16.22},{"x":13.83,"y":16.22},{"x":15.09,"y":16.22},{"x":16.35,"y":16.22},{"x":17.61,"y":16.22},
{"x":2.49,"y":17.48,"s":"A"},{"x":3.75,"y":17.48},{"x":5.01,"y":17.48},{"x":6.27,"y":17.48},{"x":7.53,"y":17.48},{"x":8.79,"y":17.48},{"x":10.05,"y":17.48},{"x":11.31,"y":17.48},{"x":12.57,"y":17.48},{"x":13.83,"y":17.48},{"x":15.09,"y":17.48},{"x":16.35,"y":17.48},{"x":17.61,"y":17.48}
],
"pts2":[
{"x":2.03,"y":1.87},{"x":3.36,"y":1.87},{"x":4.72,"y":1.87},{"x":6.05,"y":1.87},{"x":7.38,"y":1.87},{"x":8.72,"y":1.87},{"x":10.07,"y":1.87},{"x":11.4,"y":1.87},{"x":12.74,"y":1.87},{"x":14.07,"y":1.87},{"x":15.43,"y":1.87},{"x":16.77,"y":1.87},{"x":18.11,"y":1.87},
{"x":2.03,"y":3.23},{"x":3.36,"y":3.23},{"x":4.72,"y":3.23},{"x":6.05,"y":3.23},{"x":7.38,"y":3.23},{"x":8.72,"y":3.23},{"x":10.07,"y":3.23},{"x":11.4,"y":3.23},{"x":12.74,"y":3.23},{"x":14.07,"y":3.23},{"x":15.43,"y":3.23},{"x":16.77,"y":3.23},{"x":18.11,"y":3.23},
{"x":2.03,"y":4.58},{"x":3.36,"y":4.58},{"x":4.72,"y":4.58},{"x":6.05,"y":4.58},{"x":7.38,"y":4.58},{"x":8.72,"y":4.58},{"x":10.07,"y":4.58},{"x":11.4,"y":4.58},{"x":12.74,"y":4.58},{"x":14.07,"y":4.58},{"x":15.43,"y":4.58},{"x":16.77,"y":4.58},{"x":18.11,"y":4.58},
{"x":2.03,"y":5.91},{"x":3.36,"y":5.91},{"x":4.72,"y":5.91},{"x":6.05,"y":5.91},{"x":7.38,"y":5.91},{"x":8.72,"y":5.91},{"x":10.07,"y":5.91},{"x":11.4,"y":5.91},{"x":12.74,"y":5.91},{"x":14.07,"y":5.91},{"x":15.43,"y":5.91},{"x":16.77,"y":5.91},{"x":18.11,"y":5.91},
{"x":2.03,"y":7.24},{"x":3.36,"y":7.24},{"x":4.72,"y":7.24},{"x":6.05,"y":7.24},{"x":7.38,"y":7.24},{"x":8.72,"y":7.24},{"x":10.07,"y":7.24},{"x":11.4,"y":7.24},{"x":12.74,"y":7.24},{"x":14.07,"y":7.24},{"x":15.43,"y":7.24},{"x":16.77,"y":7.24},{"x":18.11,"y":7.24},
{"x":2.03,"y":8.59},{"x":3.36,"y":8.59},{"x":4.72,"y":8.59},{"x":6.05,"y":8.59},{"x":7.38,"y":8.59},{"x":8.72,"y":8.59},{"x":10.07,"y":8.59},{"x":11.4,"y":8.59},{"x":12.74,"y":8.59},{"x":14.07,"y":8.59},{"x":15.43,"y":8.59},{"x":16.77,"y":8.59},{"x":18.11,"y":8.59},
{"x":2.03,"y":9.92},{"x":3.36,"y":9.92},{"x":4.72,"y":9.92},{"x":6.05,"y":9.92},{"x":7.38,"y":9.92,"s":"B"},{"x":8.72,"y":9.92},{"x":10.07,"y":9.92},{"x":11.4,"y":9.92},{"x":12.74,"y":9.92,"s":"C"},{"x":14.07,"y":9.92},{"x":15.43,"y":9.92},{"x":16.77,"y":9.92},{"x":18.11,"y":9.92},
{"x":2.03,"y":11.26},{"x":3.36,"y":11.26},{"x":4.72,"y":11.26},{"x":6.05,"y":11.26},{"x":7.38,"y":11.26},{"x":8.72,"y":11.26},{"x":10.07,"y":11.26},{"x":11.4,"y":11.26},{"x":12.74,"y":11.26},{"x":14.07,"y":11.26},{"x":15.43,"y":11.26},{"x":16.77,"y":11.26},{"x":18.11,"y":11.26},
{"x":2.03,"y":12.61},{"x":3.36,"y":12.61},{"x":4.72,"y":12.61},{"x":6.05,"y":12.61},{"x":7.38,"y":12.61},{"x":8.72,"y":12.61},{"x":10.07,"y":12.61},{"x":11.4,"y":12.61},{"x":12.74,"y":12.61},{"x":14.07,"y":12.61},{"x":15.43,"y":12.61},{"x":16.77,"y":12.61},{"x":18.11,"y":12.61},
{"x":2.03,"y":13.97},{"x":3.36,"y":13.97},{"x":4.72,"y":13.97},{"x":6.05,"y":13.97},{"x":7.38,"y":13.97},{"x":8.72,"y":13.97},{"x":10.07,"y":13.97},{"x":11.4,"y":13.97},{"x":12.74,"y":13.97},{"x":14.07,"y":13.97},{"x":15.43,"y":13.97},{"x":16.77,"y":13.97},{"x":18.11,"y":13.97},
{"x":2.03,"y":15.3},{"x":3.36,"y":15.3},{"x":4.72,"y":15.3},{"x":6.05,"y":15.3},{"x":7.38,"y":15.3},{"x":8.72,"y":15.3},{"x":10.07,"y":15.3},{"x":11.4,"y":15.3},{"x":12.74,"y":15.3},{"x":14.07,"y":15.3},{"x":15.43,"y":15.3},{"x":16.77,"y":15.3},{"x":18.11,"y":15.3},
{"x":2.03,"y":16.61},{"x":3.36,"y":16.61},{"x":4.72,"y":16.61},{"x":6.05,"y":16.61},{"x":7.38,"y":16.61},{"x":8.72,"y":16.61},{"x":10.07,"y":16.61},{"x":11.4,"y":16.61},{"x":12.74,"y":16.61},{"x":14.07,"y":16.61},{"x":15.43,"y":16.61},{"x":16.77,"y":16.61},{"x":18.11,"y":16.61},
{"x":2.03,"y":17.97,"s":"A"},{"x":3.36,"y":17.97},{"x":4.72,"y":17.97},{"x":6.05,"y":17.97},{"x":7.38,"y":17.97},{"x":8.72,"y":17.97},{"x":10.07,"y":17.97},{"x":11.4,"y":17.97},{"x":12.74,"y":17.97},{"x":14.07,"y":17.97},{"x":15.43,"y":17.97},{"x":16.77,"y":17.97},{"x":18.11,"y":17.97}
],
"bar":[{"lo":0.002,"hi":0.002204},{"lo":0.002204,"hi":0.002429},{"lo":0.002429,"hi":0.002677},{"lo":0.002677,"hi":0.00295},{"lo":0.00295,"hi":0.00325},{"lo":0.00325,"hi":0.00358},{"lo":0.00358,"hi":0.00395},{"lo":0.00395,"hi":0.00435},{"lo":0.00435,"hi":0.0048},{"lo":0.0048,"hi":0.00529},{"lo":0.00529,"hi":0.00583},{"lo":0.00583,"hi":0.00642},{"lo":0.00642,"hi":0.00708},{"lo":0.00708,"hi":0.0078},{"lo":0.0078,"hi":0.0086},{"lo":0.0086,"hi":0.00947},{"lo":0.00947,"hi":0.01044},{"lo":0.01044,"hi":0.0115},{"lo":0.0115,"hi":0.01268},{"lo":0.01268,"hi":0.01397},{"lo":0.01397,"hi":0.01539},{"lo":0.01539,"hi":0.01696},{"lo":0.01696,"hi":0.01869},{"lo":0.01869,"hi":0.0206},{"lo":0.0206,"hi":0.0227},{"lo":0.0227,"hi":0.02502},{"lo":0.02502,"hi":0.02757},{"lo":0.02757,"hi":0.03038},{"lo":0.03038,"hi":0.03348},{"lo":0.03348,"hi":0.03689},{"lo":0.03689,"hi":0.04065},{"lo":0.04065,"hi":0.04472},{"lo":0.04472,"hi":0.04928},{"lo":0.04928,"hi":0.05431},{"lo":0.05431,"hi":0.05985},{"lo":0.05985,"hi":0.06595},{"lo":0.06595,"hi":0.07268},{"lo":0.07268,"hi":0.08009},{"lo":0.08009,"hi":0.08826},{"lo":0.08826,"hi":0.09726},{"lo":0.09726,"hi":0.10718},{"lo":0.10718,"hi":0.11811},{"lo":0.11811,"hi":0.13015},{"lo":0.13015,"hi":0.14343},{"lo":0.14343,"hi":0.15805},{"lo":0.15805,"hi":0.17417},{"lo":0.17417,"hi":0.19194},{"lo":0.19194,"hi":0.21151},{"lo":0.21151,"hi":0.23308},{"lo":0.23308,"hi":0.25685},{"lo":0.25685,"hi":0.28304},{"lo":0.28304,"hi":0.3119},{"lo":0.3119,"hi":0.34371},{"lo":0.34371,"hi":0.37876},{"lo":0.37876,"hi":0.41738},{"lo":0.41738,"hi":0.45994},{"lo":0.45994,"hi":0.50684},{"lo":0.50684,"hi":0.55853},{"lo":0.55853,"hi":0.61548},{"lo":0.61548,"hi":0.67824},{"lo":0.67824,"hi":0.74741},{"lo":0.74741,"hi":0.82362},{"lo":0.82362,"hi":0.90761},{"lo":0.90761,"hi":1}]
},
"vconcat":[
{"width":1431,"height":84,"layer":[
 {"data":{"values":[{"t":"True model","xf":0.4983,"yf":0.31}]},"mark":{"type":"text","font":"Liberation Serif","fontSize":43,"align":"center","baseline":"middle"},"encoding":{"x":{"field":"xf","type":"quantitative","axis":null,"scale":{"domain":[0,1],"nice":false}},"y":{"field":"yf","type":"quantitative","axis":null,"scale":{"domain":[1,0],"nice":false}},"text":{"field":"t"}}},
 {"data":{"values":[{"t":"a","xf":0,"yf":0.3}]},"mark":{"type":"text","font":"Liberation Serif","fontWeight":"bold","fontSize":40,"align":"left","baseline":"middle"},"encoding":{"x":{"field":"xf","type":"quantitative"},"y":{"field":"yf","type":"quantitative"},"text":{"field":"t"}}}
]},
{"hconcat":[
 {"width":442,"height":441,"layer":[
  {"data":{"name":"m1"},"mark":"rect","encoding":{"x":{"field":"x0","type":"quantitative","axis":null,"scale":{"domain":[0,20],"nice":false}},"x2":{"field":"x1"},"y":{"field":"y0","type":"quantitative","axis":null,"scale":{"domain":[0,20],"nice":false,"reverse":true}},"y2":{"field":"y1"},"color":{"field":"v","type":"quantitative","legend":null,"scale":{"type":"log","clamp":true,"domain":[0.002,0.1,1],"range":["#424655","#05c800","#c80000"]}}}},
  {"data":{"name":"pts1"},"transform":[{"filter":"!datum.s"}],"mark":{"type":"point","shape":"square","filled":true,"color":"black","size":8,"opacity":1},"encoding":{"x":{"field":"x","type":"quantitative"},"y":{"field":"y","type":"quantitative"}}},
  {"data":{"name":"pts1"},"transform":[{"filter":"datum.s"}],"mark":{"type":"point","shape":"circle","filled":true,"color":"#c8b400","size":30,"opacity":1},"encoding":{"x":{"field":"x","type":"quantitative"},"y":{"field":"y","type":"quantitative"}}},
  {"data":{"name":"pts1"},"transform":[{"filter":"datum.s"}],"mark":{"type":"text","font":"Liberation Serif","fontSize":15,"color":"white","align":"right","dx":-1,"dy":-4},"encoding":{"x":{"field":"x","type":"quantitative"},"y":{"field":"y","type":"quantitative"},"text":{"field":"s"}}}
 ]},
 {"width":441,"height":441,"layer":[
  {"data":{"name":"m2"},"mark":"rect","encoding":{"x":{"field":"x0","type":"quantitative","axis":null,"scale":{"domain":[0,20],"nice":false}},"x2":{"field":"x1"},"y":{"field":"y0","type":"quantitative","axis":null,"scale":{"domain":[0,20],"nice":false,"reverse":true}},"y2":{"field":"y1"},"color":{"field":"v","type":"quantitative","legend":null,"scale":{"type":"log","clamp":true,"domain":[0.002,0.1,1],"range":["#424655","#05c800","#c80000"]}}}},
  {"data":{"name":"pts2"},"transform":[{"filter":"!datum.s"}],"mark":{"type":"point","shape":"square","filled":true,"color":"black","size":8,"opacity":1},"encoding":{"x":{"field":"x","type":"quantitative"},"y":{"field":"y","type":"quantitative"}}},
  {"data":{"name":"pts2"},"transform":[{"filter":"datum.s"}],"mark":{"type":"point","shape":"circle","filled":true,"color":"#c8b400","size":30,"opacity":1},"encoding":{"x":{"field":"x","type":"quantitative"},"y":{"field":"y","type":"quantitative"}}},
  {"data":{"name":"pts2"},"transform":[{"filter":"datum.s"}],"mark":{"type":"text","font":"Liberation Serif","fontSize":15,"color":"white","align":"right","dx":-1,"dy":-4},"encoding":{"x":{"field":"x","type":"quantitative"},"y":{"field":"y","type":"quantitative"},"text":{"field":"s"}}}
 ]},
 {"width":441,"height":276,"data":{"name":"m3"},"mark":"rect","encoding":{"x":{"field":"x0","type":"quantitative","axis":null,"scale":{"domain":[0,20],"nice":false}},"x2":{"field":"x1"},"y":{"field":"y0","type":"quantitative","axis":null,"scale":{"domain":[0,12.52],"nice":false,"reverse":true}},"y2":{"field":"y1"},"color":{"field":"v","type":"quantitative","legend":null,"scale":{"type":"log","clamp":true,"domain":[0.002,0.1,1],"range":["#424655","#05c800","#c80000"]}}}}
],"spacing":50},
{"width":1431,"height":215,"layer":[
 {"data":{"values":[{"t":"Results of inversion of","xf":0.3417,"yf":0.684}]},"mark":{"type":"text","font":"Liberation Serif","fontSize":44,"align":"left","baseline":"middle"},"encoding":{"x":{"field":"xf","type":"quantitative","axis":null,"scale":{"domain":[0,1],"nice":false}},"y":{"field":"yf","type":"quantitative","axis":null,"scale":{"domain":[1,0],"nice":false}},"text":{"field":"t"}}},
 {"data":{"values":[{"t":"Z","xf":0.633,"yf":0.684}]},"mark":{"type":"text","font":"Liberation Serif","fontStyle":"italic","fontSize":44,"align":"left","baseline":"middle"},"encoding":{"x":{"field":"xf","type":"quantitative"},"y":{"field":"yf","type":"quantitative"},"text":{"field":"t"}}},
 {"data":{"values":[{"t":"b","xf":0,"yf":0.684}]},"mark":{"type":"text","font":"Liberation Serif","fontWeight":"bold","fontSize":40,"align":"left","baseline":"middle"},"encoding":{"x":{"field":"xf","type":"quantitative"},"y":{"field":"yf","type":"quantitative"},"text":{"field":"t"}}}
]},
{"hconcat":[
 {"hconcat":[
  {"width":442,"height":442,"resolve":{"scale":{"x":"independent","y":"independent"}},"layer":[
   {"data":{"name":"p1"},"mark":{"type":"rect","strokeWidth":1},"encoding":{"x":{"field":"c","type":"ordinal","axis":null,"scale":{"domain":[0,1,2,3,4,5,6,7,8,9,10,11,12,13,14,15,16,17,18,19],"paddingInner":0,"paddingOuter":0}},"y":{"field":"r","type":"ordinal","axis":null,"scale":{"domain":[0,1,2,3,4,5,6,7,8,9,10,11,12,13,14,15,16,17,18,19],"paddingInner":0,"paddingOuter":0}},
    "color":{"field":"v","type":"quantitative","legend":null,"scale":{"type":"log","clamp":true,"domain":[0.002,0.005,0.0065,0.0108,0.0161,0.0215,0.026,0.032,0.039,0.052,0.069,0.084,0.1,0.1125,0.124,0.137,0.151,0.166,0.183,0.2015,0.222,0.245,0.27,0.297,0.327,0.36,0.4,1],"range":["#424655","#0808b9","#0000c8","#0006c8","#0033a0","#004e85","#005a6e","#006262","#007857","#008943","#00a927","#00b818","#05c800","#1fc800","#3fc800","#62c800","#81c800","#a1c800","#c8c800","#c8ac00","#c89500","#c87d00","#c86200","#c84700","#c82b00","#c81000","#c80000","#c80000"]}},
    "stroke":{"field":"v","type":"quantitative","legend":null,"scale":{"type":"log","clamp":true,"domain":[0.002,0.005,0.0065,0.0108,0.0161,0.0215,0.026,0.032,0.039,0.052,0.069,0.084,0.1,0.1125,0.124,0.137,0.151,0.166,0.183,0.2015,0.222,0.245,0.27,0.297,0.327,0.36,0.4,1],"range":["#424655","#0808b9","#0000c8","#0006c8","#0033a0","#004e85","#005a6e","#006262","#007857","#008943","#00a927","#00b818","#05c800","#1fc800","#3fc800","#62c800","#81c800","#a1c800","#c8c800","#c8ac00","#c89500","#c87d00","#c86200","#c84700","#c82b00","#c81000","#c80000","#c80000"]}}}},
   {"data":{"values":[{"x0":7.49,"x1":12.49,"y0":8.1,"y1":11.9}]},"mark":{"type":"rect","filled":false,"stroke":"white","strokeWidth":1.2},"encoding":{"x":{"field":"x0","type":"quantitative","axis":null,"scale":{"domain":[0,20],"nice":false}},"x2":{"field":"x1"},"y":{"field":"y0","type":"quantitative","axis":null,"scale":{"domain":[0,20],"nice":false,"reverse":true}},"y2":{"field":"y1"}}}
  ]},
  {"width":441,"height":442,"resolve":{"scale":{"x":"independent","y":"independent"}},"layer":[
   {"data":{"name":"p2"},"mark":{"type":"rect","strokeWidth":1},"encoding":{"x":{"field":"c","type":"ordinal","axis":null,"scale":{"domain":[0,1,2,3,4,5,6,7,8,9,10,11,12,13,14,15,16,17,18,19],"paddingInner":0,"paddingOuter":0}},"y":{"field":"r","type":"ordinal","axis":null,"scale":{"domain":[0,1,2,3,4,5,6,7,8,9,10,11,12,13,14,15,16,17,18,19],"paddingInner":0,"paddingOuter":0}},
    "color":{"field":"v","type":"quantitative","legend":null,"scale":{"type":"log","clamp":true,"domain":[0.002,0.005,0.0065,0.0108,0.0161,0.0215,0.026,0.032,0.039,0.052,0.069,0.084,0.1,0.1125,0.124,0.137,0.151,0.166,0.183,0.2015,0.222,0.245,0.27,0.297,0.327,0.36,0.4,1],"range":["#424655","#0808b9","#0000c8","#0006c8","#0033a0","#004e85","#005a6e","#006262","#007857","#008943","#00a927","#00b818","#05c800","#1fc800","#3fc800","#62c800","#81c800","#a1c800","#c8c800","#c8ac00","#c89500","#c87d00","#c86200","#c84700","#c82b00","#c81000","#c80000","#c80000"]}},
    "stroke":{"field":"v","type":"quantitative","legend":null,"scale":{"type":"log","clamp":true,"domain":[0.002,0.005,0.0065,0.0108,0.0161,0.0215,0.026,0.032,0.039,0.052,0.069,0.084,0.1,0.1125,0.124,0.137,0.151,0.166,0.183,0.2015,0.222,0.245,0.27,0.297,0.327,0.36,0.4,1],"range":["#424655","#0808b9","#0000c8","#0006c8","#0033a0","#004e85","#005a6e","#006262","#007857","#008943","#00a927","#00b818","#05c800","#1fc800","#3fc800","#62c800","#81c800","#a1c800","#c8c800","#c8ac00","#c89500","#c87d00","#c86200","#c84700","#c82b00","#c81000","#c80000","#c80000"]}}}},
   {"data":{"values":[{"x0":7.48,"x1":12.5,"y0":8.1,"y1":11.86}]},"mark":{"type":"rect","filled":false,"stroke":"white","strokeWidth":1.2},"encoding":{"x":{"field":"x0","type":"quantitative","axis":null,"scale":{"domain":[0,20],"nice":false}},"x2":{"field":"x1"},"y":{"field":"y0","type":"quantitative","axis":null,"scale":{"domain":[0,20],"nice":false,"reverse":true}},"y2":{"field":"y1"}}},
   {"data":{"values":[{"x0":4.99,"y0":5.61,"y1":14.39},{"x0":14.96,"y0":5.61,"y1":14.39}]},"mark":{"type":"rule","color":"white","strokeWidth":1.2},"encoding":{"x":{"field":"x0","type":"quantitative","axis":null,"scale":{"domain":[0,20],"nice":false}},"y":{"field":"y0","type":"quantitative","axis":null,"scale":{"domain":[0,20],"nice":false,"reverse":true}},"y2":{"field":"y1"}}}
  ]}
 ],"spacing":48},
 {"width":443,"height":278,"resolve":{"scale":{"x":"independent"}},"layer":[
  {"data":{"name":"p3"},"transform":[{"lookup":"r","from":{"data":{"name":"layers"},"key":"r","fields":["d0","d1"]}}],"mark":{"type":"rect","strokeWidth":0.6},"encoding":{"x":{"field":"c","type":"ordinal","axis":null,"scale":{"domain":[0,1,2,3,4,5,6,7,8,9,10,11,12,13,14,15,16,17,18,19],"paddingInner":0,"paddingOuter":0}},"y":{"field":"d0","type":"quantitative","axis":null,"scale":{"domain":[0,12.58],"nice":false,"reverse":true}},"y2":{"field":"d1"},
    "color":{"field":"v","type":"quantitative","legend":null,"scale":{"type":"log","clamp":true,"domain":[0.002,0.005,0.0065,0.0108,0.0161,0.0215,0.026,0.032,0.039,0.052,0.069,0.084,0.1,0.1125,0.124,0.137,0.151,0.166,0.183,0.2015,0.222,0.245,0.27,0.297,0.327,0.36,0.4,1],"range":["#424655","#0808b9","#0000c8","#0006c8","#0033a0","#004e85","#005a6e","#006262","#007857","#008943","#00a927","#00b818","#05c800","#1fc800","#3fc800","#62c800","#81c800","#a1c800","#c8c800","#c8ac00","#c89500","#c87d00","#c86200","#c84700","#c82b00","#c81000","#c80000","#c80000"]}},
    "stroke":{"field":"v","type":"quantitative","legend":null,"scale":{"type":"log","clamp":true,"domain":[0.002,0.005,0.0065,0.0108,0.0161,0.0215,0.026,0.032,0.039,0.052,0.069,0.084,0.1,0.1125,0.124,0.137,0.151,0.166,0.183,0.2015,0.222,0.245,0.27,0.297,0.327,0.36,0.4,1],"range":["#424655","#0808b9","#0000c8","#0006c8","#0033a0","#004e85","#005a6e","#006262","#007857","#008943","#00a927","#00b818","#05c800","#1fc800","#3fc800","#62c800","#81c800","#a1c800","#c8c800","#c8ac00","#c89500","#c87d00","#c86200","#c84700","#c82b00","#c81000","#c80000","#c80000"]}}}},
  {"data":{"values":[{"x0":4.97,"x1":14.99,"y0":1.86,"y1":7.5},{"x0":7.5,"x1":12.5,"y0":0.23,"y1":0.68}]},"mark":{"type":"rect","filled":false,"stroke":"#d8d8d8","strokeWidth":1},"encoding":{"x":{"field":"x0","type":"quantitative","axis":null,"scale":{"domain":[0,20],"nice":false}},"x2":{"field":"x1"},"y":{"field":"y0","type":"quantitative","axis":null,"scale":{"domain":[0,12.58],"nice":false,"reverse":true}},"y2":{"field":"y1"}}}
 ]}
],"spacing":46},
{"width":1431,"height":5,"data":{"values":[{"t":""}]},"mark":{"type":"text","fontSize":1},"encoding":{"text":{"field":"t"}}},
{"hconcat":[
 {"width":256,"height":43,"data":{"values":[{"t":""}]},"mark":{"type":"text","fontSize":1},"encoding":{"text":{"field":"t"}}},
 {"width":822,"height":43,"data":{"name":"bar"},"mark":{"type":"rect","strokeWidth":0.6},"encoding":{"x":{"field":"lo","type":"quantitative","scale":{"type":"log","domain":[0.002,1],"nice":false},"axis":{"orient":"top","offset":-20,"values":[0.002,0.005,0.01,0.02,0.05,0.1,0.2,0.5,1],"format":"~g","domain":false,"grid":false,"zindex":1,"tickSize":41,"tickWidth":1.5,"tickColor":{"condition":{"test":"datum.value<=0.002||datum.value>=1","value":"transparent"},"value":"#111111"},"labelFont":"Liberation Serif","labelFontSize":28,"labelColor":"black","labelPadding":5,"labelFlush":false,"labelBound":false,"labelOverlap":false,"title":"σ","titleFont":"Liberation Serif","titleFontStyle":"italic","titleFontWeight":"normal","titleFontSize":30,"titleColor":"black","titlePadding":27}},"x2":{"field":"hi"},
 "color":{"field":"lo","type":"quantitative","legend":null,"scale":{"type":"threshold","domain":[0.002204,0.002429,0.002677,0.00295,0.00325,0.00358,0.00395,0.00435,0.0048,0.00529,0.00583,0.00642,0.00708,0.0078,0.0086,0.00947,0.01044,0.0115,0.01268,0.01397,0.01539,0.01696,0.01869,0.0206,0.0227,0.02502,0.02757,0.03038,0.03348,0.03689,0.04065,0.04472,0.04928,0.05431,0.05985,0.06595,0.07268,0.08009,0.08826,0.09726,0.10718,0.11811,0.13015,0.14343,0.15805,0.17417,0.19194,0.21151,0.23308,0.25685,0.28304,0.3119,0.34371,0.37876,0.41738,0.45994,0.50684,0.55853,0.61548,0.67824,0.74741,0.82362,0.90761],"range":["#555a6e","#505572","#4a4f7c","#404488","#383c94","#3034a0","#2a2cac","#2222b8","#1a1ac8","#1010dc","#0808ec","#0000ff","#0000ff","#0000ff","#0000ff","#0000ff","#0000ff","#0008ff","#0018f0","#0028e4","#0038d8","#0041cd","#0050be","#0055b4","#0064aa","#006e96","#00738c","#007882","#007d7d","#009178","#009b6e","#00a569","#00a564","#00af55","#00b950","#00cd41","#00d732","#00e128","#00eb1e","#00f50f","#00ff00","#28ff00","#50ff00","#7dff00","#a5ff00","#cdff00","#ffff00","#ffdc00","#ffbe00","#ffa000","#ff7d00","#ff5a00","#ff3700","#ff1400","#ff0000","#ff0000","#ff0000","#ff0000","#ff0000","#ff0000","#ff0000","#ff0000","#ff0000","#ff0000"]}},
 "stroke":{"field":"lo","type":"quantitative","legend":null,"scale":{"type":"threshold","domain":[0.002204,0.002429,0.002677,0.00295,0.00325,0.00358,0.00395,0.00435,0.0048,0.00529,0.00583,0.00642,0.00708,0.0078,0.0086,0.00947,0.01044,0.0115,0.01268,0.01397,0.01539,0.01696,0.01869,0.0206,0.0227,0.02502,0.02757,0.03038,0.03348,0.03689,0.04065,0.04472,0.04928,0.05431,0.05985,0.06595,0.07268,0.08009,0.08826,0.09726,0.10718,0.11811,0.13015,0.14343,0.15805,0.17417,0.19194,0.21151,0.23308,0.25685,0.28304,0.3119,0.34371,0.37876,0.41738,0.45994,0.50684,0.55853,0.61548,0.67824,0.74741,0.82362,0.90761],"range":["#555a6e","#505572","#4a4f7c","#404488","#383c94","#3034a0","#2a2cac","#2222b8","#1a1ac8","#1010dc","#0808ec","#0000ff","#0000ff","#0000ff","#0000ff","#0000ff","#0000ff","#0008ff","#0018f0","#0028e4","#0038d8","#0041cd","#0050be","#0055b4","#0064aa","#006e96","#00738c","#007882","#007d7d","#009178","#009b6e","#00a569","#00a564","#00af55","#00b950","#00cd41","#00d732","#00e128","#00eb1e","#00f50f","#00ff00","#28ff00","#50ff00","#7dff00","#a5ff00","#cdff00","#ffff00","#ffdc00","#ffbe00","#ffa000","#ff7d00","#ff5a00","#ff3700","#ff1400","#ff0000","#ff0000","#ff0000","#ff0000","#ff0000","#ff0000","#ff0000","#ff0000","#ff0000","#ff0000"]}}}}
],"spacing":0}
]}
